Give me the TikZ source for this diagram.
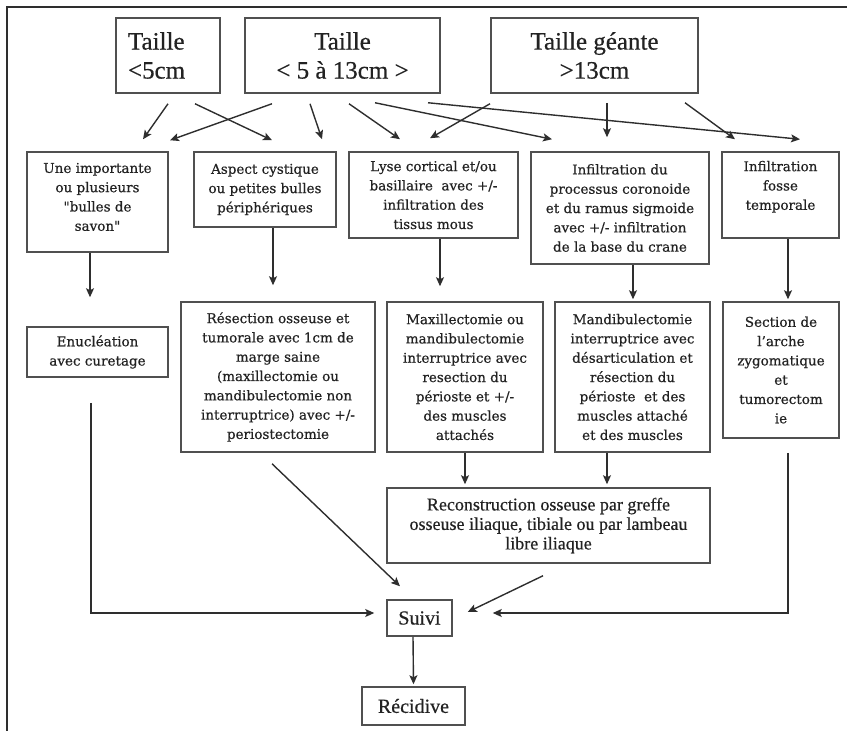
\documentclass[tikz,border=0pt]{standalone}
\usepackage{fontspec}
\setmainfont{DejaVu Serif}[FakeBold=0.6]
\newfontfamily\libserif{Liberation Serif}[FakeBold=0.5]
\newfontfamily\plainq{DejaVu Serif}[Ligatures=ResetAll,FakeBold=0.6]
\usetikzlibrary{arrows.meta,calc}
\definecolor{boxcol}{HTML}{505050}
\definecolor{linecol}{HTML}{2E2E2E}
\definecolor{txtcol}{HTML}{222222}
\begin{document}
\begin{tikzpicture}[x=1pt,y=-1pt,
  box/.style={draw=boxcol, line width=1.5pt, inner sep=0pt, align=center, text=txtcol,
    font=\fontsize{13.5}{19.3}\selectfont},
  topbox/.style={box, font=\libserif\fontsize{25}{29}\selectfont},
  lowbox/.style={box, font=\libserif\fontsize{18}{19.5}\selectfont},
  arr/.style={draw=linecol, line width=1.4pt, -{Stealth[length=9pt,width=8pt,inset=2pt]}},
  frame/.style={draw=linecol, line width=1.5pt}]
\useasboundingbox (0,0) rectangle (847,731);
% frame
\coordinate (fTL) at (7,7);
\coordinate (fTR) at (847,7);
\coordinate (fBL) at (7,731);
\draw[frame] (fTR) -- (fTL) -- (fBL);

% top row
\node[topbox, minimum width=104pt, minimum height=75pt, text width=80pt, align=left] (B1) at (168,55.5) {Taille\\<5cm};
\node[topbox, minimum width=195pt, minimum height=75pt] (B2) at (342.5,55.5) {Taille\\< 5 à 13cm >};
\node[topbox, minimum width=207pt, minimum height=75pt] (B3) at (594.5,55.5) {Taille géante\\>13cm};

% second row
\node[box, minimum width=141pt, minimum height=100pt] (C1) at (97.5,202) {Une importante\\ou plusieurs\\{\plainq"}bulles de\\savon{\plainq"}\\[-9pt]\mbox{}};
\node[box, minimum width=142pt, minimum height=75pt] (C2) at (265,189.5) {Aspect cystique\\ou petites bulles\\périphériques};
\node[box, minimum width=169pt, minimum height=86pt] (C3) at (433.5,195) {Lyse cortical et/ou\\basillaire\ \ avec +/-\\infiltration des\\tissus mous};
\node[box, minimum width=178pt, minimum height=112pt] (C4) at (620,208) {Infiltration du\\processus coronoide\\et du ramus sigmoide\\avec +/- infiltration\\de la base du crane};
\node[box, minimum width=117pt, minimum height=86pt] (C5) at (780.5,195) {Infiltration\\fosse\\temporale\\\mbox{}};

% third row
\node[box, minimum width=141pt, minimum height=50pt] (D1) at (97.5,352) {Enucléation\\avec curetage};
\node[box, minimum width=194pt, minimum height=150pt] (D2) at (278,377) {Résection osseuse et\\tumorale avec 1cm de\\marge saine\\(maxillectomie ou\\mandibulectomie non\\interruptrice) avec +/-\\periostectomie};
\node[box, minimum width=156pt, minimum height=150pt] (D3) at (465,377) {Maxillectomie ou\\mandibulectomie\\interruptrice avec\\resection du\\périoste et +/-\\des muscles\\attachés};
\node[box, minimum width=155pt, minimum height=150pt] (D4) at (632.5,377) {Mandibulectomie\\interruptrice avec\\désarticulation et\\résection du\\périoste\ \ et des\\muscles attaché\\et des muscles};
\node[box, minimum width=116pt, minimum height=136pt] (D5) at (781,370) {Section de\\l'arche\\zygomatique\\et\\tumorectom\\ie};

% reconstruction, follow-up
\node[lowbox, minimum width=323pt, minimum height=75pt] (R) at (548.5,525.5) {Reconstruction osseuse par greffe\\osseuse iliaque, tibiale ou par lambeau\\libre iliaque};
\node[lowbox, font=\libserif\fontsize{20}{22}\selectfont, minimum width=65pt, minimum height=36pt] (S) at (419.5,618) {Suivi};
\node[lowbox, font=\libserif\fontsize{20}{22}\selectfont, minimum width=103pt, minimum height=38pt] (Rc) at (413.5,706) {Récidive};

% top arrows
\draw[arr] ($(B1.south)+(0,10)$) -- ($(C1.north)+(45.5,-12)$);
\draw[arr] ($(B1.south)+(27,10)$) -- ($(C2.north)+(7,-11)$);
\draw[arr] ($(B2.south)+(-70.5,10)$) -- ($(C1.north)+(72.5,-11)$);
\draw[arr] ($(B2.south)+(-32.5,10)$) -- ($(C2.north)+(57,-12)$);
\draw[arr] ($(B2.south)+(6.5,10)$) -- ($(C3.north)+(-33.5,-12)$);
\draw[arr] ($(B2.south)+(32.5,9)$) -- ($(C4.north)+(-68,-12)$);
\draw[arr] ($(B2.south)+(85.5,9)$) -- ($(C5.north)+(19.5,-12)$);
\draw[arr] ($(B3.south)+(-104.5,10)$) -- ($(C3.north)+(-3.5,-13)$);
\draw[arr] ($(B3.south)+(12.5,9)$) -- ($(C4.north)+(-13,-14)$);
\draw[arr] ($(B3.south)+(90.5,9)$) -- ($(C5.north)+(-45.5,-12)$);

% second to third row
\draw[arr] ($(C1.south)+(-7.5,0)$) -- ($(D1.north)+(-7.5,-29)$);
\draw[arr] ($(C2.south)+(8,0)$) -- ($(D2.north)+(-5,-16)$);
\draw[arr] ($(C3.south)+(6.5,0)$) -- ($(D3.north)+(-25,-15)$);
\draw[arr] ($(C4.south)+(13,0)$) -- ($(D4.north)+(0.5,-2)$);
\draw[arr] ($(C5.south)+(7.5,0)$) -- ($(D5.north)+(7,-2)$);

% to reconstruction
\draw[arr] (D3.south) -- ($(R.north)+(-83.5,-3)$);
\draw[arr] ($(D4.south)+(-25.5,0)$) -- ($(R.north)+(58.5,-3)$);

% to follow-up
\draw[arr] ($(D2.south)+(-6,11)$) -- ($(S.north)+(-19.5,-13)$);
\draw[arr] ($(R.south)+(-5.5,12)$) -- ($(S.east)+(15,-6)$);
\draw[arr] ($(D1.south)+(-6.5,25)$) |- ($(S.west)+(-12,-5)$);
\draw[arr] ($(D5.south)+(7,14)$) |- ($(S.east)+(40,-5)$);
\draw[arr] ($(S.south)+(-6.5,0)$) -- ($(Rc.north)+(0,-2)$);
\end{tikzpicture}
\end{document}
